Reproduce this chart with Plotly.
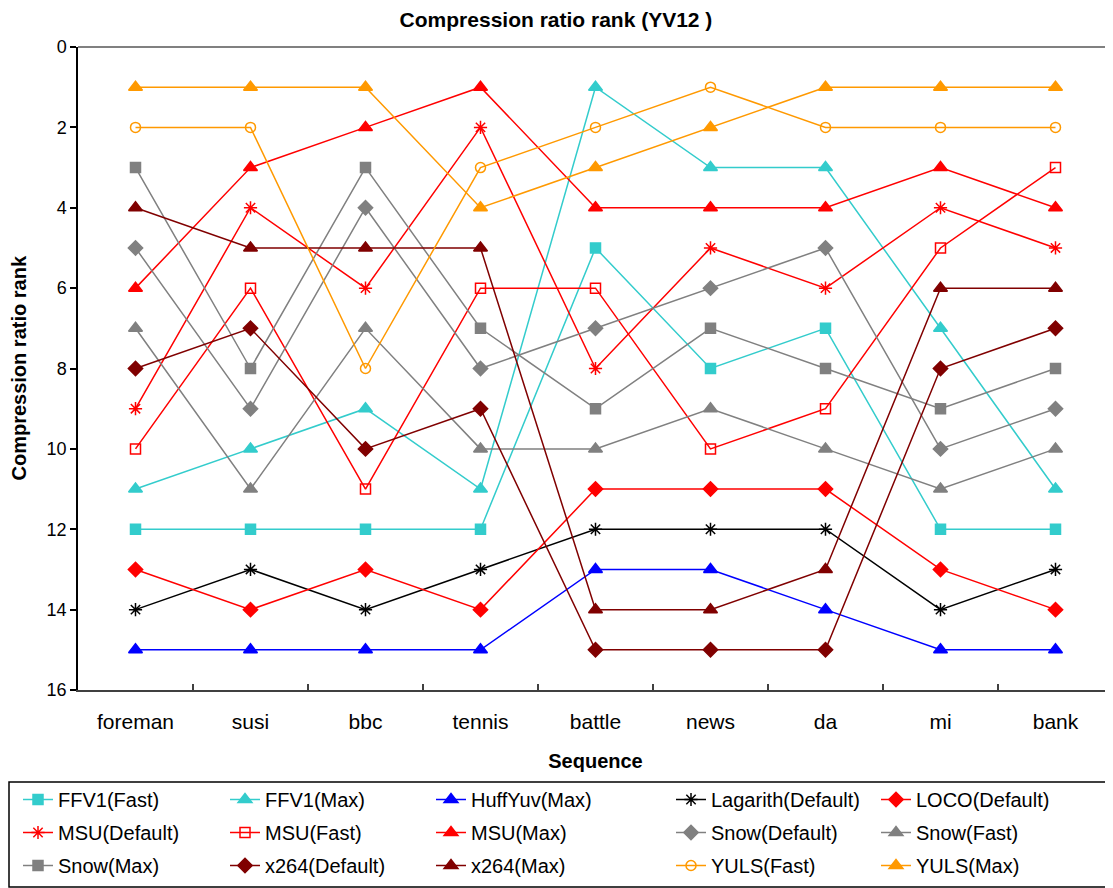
import plotly.graph_objects as go

categories = ["foreman", "susi", "bbc", "tennis", "battle", "news", "da", "mi", "bank"]

ffv1_fast = [12, 12, 12, 12, 5, 8, 7, 12, 12]
ffv1_max = [11, 10, 9, 11, 1, 3, 3, 7, 11]
huffyuv_max = [15, 15, 15, 15, 13, 13, 14, 15, 15]
lagarith_default = [14, 13, 14, 13, 12, 12, 12, 14, 13]
loco_default = [13, 14, 13, 14, 11, 11, 11, 13, 14]
msu_default = [9, 4, 6, 2, 8, 5, 6, 4, 5]
msu_fast = [10, 6, 11, 6, 6, 10, 9, 5, 3]
msu_max = [6, 3, 2, 1, 4, 4, 4, 3, 4]
snow_default = [5, 9, 4, 8, 7, 6, 5, 10, 9]
snow_fast = [7, 11, 7, 10, 10, 9, 10, 11, 10]
snow_max = [3, 8, 3, 7, 9, 7, 8, 9, 8]
x264_default = [8, 7, 10, 9, 15, 15, 15, 8, 7]
x264_max = [4, 5, 5, 5, 14, 14, 13, 6, 6]
yuls_fast = [2, 2, 8, 3, 2, 1, 2, 2, 2]
yuls_max = [1, 1, 1, 4, 3, 2, 1, 1, 1]

CYAN = "#33CCCC"
BLUE = "#0000FF"
BLACK = "#000000"
RED = "#FF0000"
GRAY = "#808080"
DARKRED = "#800000"
ORANGE = "#FF9900"

# (name, values, color, symbol, size, legend column)
series = [
    ("FFV1(Fast)", ffv1_fast, CYAN, "square", 10, 0),
    ("FFV1(Max)", ffv1_max, CYAN, "triangle-up", 12, 1),
    ("HuffYuv(Max)", huffyuv_max, BLUE, "triangle-up", 12, 2),
    ("Lagarith(Default)", lagarith_default, BLACK, "asterisk-open", 11, 3),
    ("LOCO(Default)", loco_default, RED, "diamond", 11, 4),
    ("MSU(Default)", msu_default, RED, "asterisk-open", 11, 0),
    ("MSU(Fast)", msu_fast, RED, "square-open", 10, 1),
    ("MSU(Max)", msu_max, RED, "triangle-up", 12, 2),
    ("Snow(Default)", snow_default, GRAY, "diamond", 11, 3),
    ("Snow(Fast)", snow_fast, GRAY, "triangle-up", 12, 4),
    ("Snow(Max)", snow_max, GRAY, "square", 10, 0),
    ("x264(Default)", x264_default, DARKRED, "diamond", 11, 1),
    ("x264(Max)", x264_max, DARKRED, "triangle-up", 12, 2),
    ("YULS(Fast)", yuls_fast, ORANGE, "circle-open", 10, 3),
    ("YULS(Max)", yuls_max, ORANGE, "triangle-up", 12, 4),
]

# page has an 8px body margin, so the figure is 8px smaller than the window
W, H = 1105, 880
L, R, T, B = 70, 0, 39, 198

fig = go.Figure()
legend_names = ["legend", "legend2", "legend3", "legend4", "legend5"]
for i, (name, vals, color, sym, size, col) in enumerate(series):
    fig.add_trace(go.Scatter(
        x=categories, y=vals, name=name, mode="lines+markers",
        line=dict(color=color, width=1.5),
        marker=dict(symbol=sym, size=size, color=color,
                    line=dict(color=color, width=1.5)),
        legend=legend_names[col], legendgroup=name,
    ))

legend_x = [10, 217, 423, 663, 868]
legend_common = dict(
    xref="container", yref="container", xanchor="left", yanchor="top",
    font=dict(family="Arial, Liberation Sans, sans-serif", size=20, color="black"),
    bgcolor="rgba(0,0,0,0)", borderwidth=0, tracegroupgap=4,
    itemwidth=30,
)
legends = {}
for k, lx in enumerate(legend_x):
    legends[legend_names[k]] = dict(x=lx / W, y=1 - 772 / H, **legend_common)

plot_h = H - T - B
plot_w = W - L - R

fig.update_layout(
    width=W, height=H,
    margin=dict(l=L, r=R, t=T, b=B, autoexpand=False),
    paper_bgcolor="white", plot_bgcolor="white",
    font=dict(family="Arial, Liberation Sans, sans-serif", color="black"),
    title=dict(text="<b>Compression ratio rank (YV12 )</b>", x=548 / W, xref="container",
               xanchor="center",
               y=1 - 12 / H, yref="container", yanchor="middle",
               font=dict(size=21, color="black")),
    showlegend=True,
    **legends,
)

fig.update_xaxes(
    type="category", showgrid=False, zeroline=False,
    showline=True, linecolor="#404040", linewidth=2,
    ticks="inside", ticklen=6, tickcolor="#404040", tickwidth=1.5,
    tickson="boundaries", tickangle=0, automargin=False,
    tickfont=dict(size=21), ticklabelstandoff=12,
    title=dict(text="<b>Sequence</b>", font=dict(size=20), standoff=22),
    range=[-0.5, len(categories) - 0.5],
)
fig.update_yaxes(
    range=[16, 0], dtick=2, showgrid=False, zeroline=False,
    showline=True, linecolor="black", linewidth=1.5,
    ticks="outside", ticklen=6, tickcolor="black", tickwidth=1.5,
    tickfont=dict(size=18), automargin=False,
)

# y-axis title
fig.add_annotation(
    text="<b>Compression ratio rank</b>", textangle=-90,
    xref="paper", yref="paper", x=(10 - L) / plot_w, y=0.5,
    xanchor="center", yanchor="middle", showarrow=False,
    font=dict(size=20, color="black"),
)

# top border of plot area
fig.add_shape(type="line", xref="paper", yref="paper", x0=0, x1=1, y0=1, y1=1,
              line=dict(color="#808080", width=2))
# legend box
fig.add_shape(type="rect", xref="paper", yref="paper",
              x0=(1 - L) / plot_w, x1=(1104 - L) / plot_w,
              y0=(H - B - 774) / plot_h, y1=(H - B - 879) / plot_h,
              line=dict(color="black", width=1.5), fillcolor="rgba(0,0,0,0)")

fig.write_html("out.html")
